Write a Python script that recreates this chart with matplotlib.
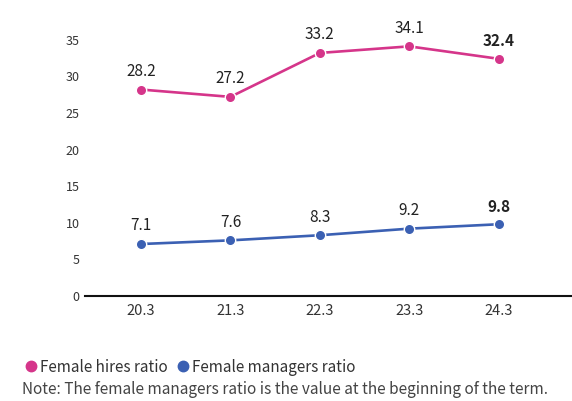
import matplotlib
matplotlib.use("Agg")
import matplotlib.pyplot as plt
from matplotlib.lines import Line2D

plt.rcParams["font.family"] = ["Noto Sans CJK JP", "DejaVu Sans"]

PERIODS = ["20.3", "21.3", "22.3", "23.3", "24.3"]
HIRES = [28.2, 27.2, 33.2, 34.1, 32.4]
MANAGERS = [7.1, 7.6, 8.3, 9.2, 9.8]
Y_TICKS = [0, 5, 10, 15, 20, 25, 30, 35]

PINK = "#d5358a"
BLUE = "#3b60b3"
TEXT = "#333333"

fig = plt.figure(figsize=(5.72, 4.01), dpi=100)
ax = fig.add_axes([85 / 572, 1 - 296 / 401, (572 - 85) / 572, (296 - 20) / 401])

x = list(range(len(PERIODS)))
for vals, color in [(HIRES, PINK), (MANAGERS, BLUE)]:
    ax.plot(x, vals, color=color, linewidth=1.9, marker="o", markersize=7.5,
            markeredgecolor="white", markeredgewidth=1.0, zorder=3)
    for i, v in enumerate(vals):
        last = i == len(vals) - 1
        ax.annotate(f"{v:.1f}", (i, v), xytext=(0, 7), textcoords="offset points",
                    ha="center", va="bottom", fontsize=11, color="#222222",
                    fontweight="bold" if last else "normal")

ax.set_xlim(-0.626, 4.82)
ax.set_ylim(0, 37.7)
ax.set_xticks(x)
ax.set_xticklabels(PERIODS, fontsize=10.5, color=TEXT)
ax.set_yticks(Y_TICKS)
ax.set_yticklabels([str(t) for t in Y_TICKS], fontsize=9, color=TEXT)
ax.tick_params(length=0)
ax.tick_params(axis="x", pad=6)
ax.tick_params(axis="y", pad=4)
for side in ["top", "right", "left"]:
    ax.spines[side].set_visible(False)
ax.spines["bottom"].set_linewidth(1.5)
ax.spines["bottom"].set_color("#111111")

handles = [
    Line2D([], [], linestyle="none", marker="o", markersize=7.5, color=PINK),
    Line2D([], [], linestyle="none", marker="o", markersize=7.5, color=BLUE),
]
fig.legend(handles, ["Female hires ratio", "Female managers ratio"],
           loc="center left", bbox_to_anchor=(6 / 572, 1 - 367 / 401),
           ncol=2, frameon=False, fontsize=11, handletextpad=-0.2,
           columnspacing=0.3, handlelength=1.5, labelcolor=TEXT)
fig.text(22 / 572, 1 - 389 / 401,
         "Note: The female managers ratio is the value at the beginning of the term.",
         fontsize=11.1, color="#444444", va="center", ha="left")

fig.savefig("out.png", dpi=100)
